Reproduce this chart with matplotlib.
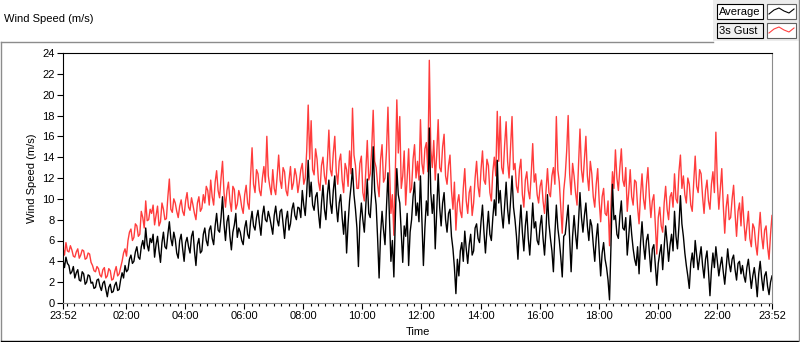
import numpy as np
import matplotlib.pyplot as plt
from matplotlib.patches import Rectangle
from matplotlib.ticker import FixedLocator

plt.rcParams['font.family'] = ['Liberation Sans', 'DejaVu Sans']

# one sample every 3 minutes, from 23:52 to 23:52 next day
step_min = 3
gust = [
    5.3, 4.6, 5.8, 5.0, 4.9, 5.5, 5.1, 4.5, 4.4, 4.9, 5.2, 4.3, 4.6, 5.1, 5.0, 4.2, 4.3, 4.8, 4.7, 3.9,
    3.6, 3.1, 3.0, 3.5, 3.3, 2.7, 2.5, 3.2, 3.4, 2.4, 2.6, 3.3, 3.1, 2.2, 2.3, 3.0, 3.5, 2.6, 2.8, 3.4,
    4.0, 4.8, 5.2, 4.5, 6.0, 6.8, 7.1, 6.0, 6.3, 7.6, 7.4, 6.4, 6.6, 8.8, 8.2, 7.2, 9.8, 7.9, 8.0, 9.0,
    8.6, 9.4, 7.5, 8.4, 9.3, 7.4, 7.8, 9.6, 9.0, 8.0, 8.1, 10.2, 11.9, 9.0, 8.7, 10.0, 9.6, 8.8, 8.2, 9.3,
    9.9, 8.8, 8.4, 9.8, 10.6, 9.2, 8.9, 10.1, 9.4, 8.6, 8.0, 9.6, 10.2, 8.8, 9.1, 10.4, 9.6, 11.2, 10.8, 9.4,
    11.8, 10.2, 9.4, 11.6, 12.7, 10.8, 10.1, 12.0, 13.6, 10.6, 9.2, 10.8, 11.6, 9.8, 8.8, 11.2, 10.9, 9.0, 9.5, 10.8,
    10.2, 9.2, 8.6, 10.4, 11.3, 9.6, 9.0, 12.2, 14.9, 11.4, 10.6, 12.8, 12.4, 10.8, 10.3, 12.0, 13.1, 11.6, 16.0, 12.2,
    11.2, 10.4, 12.8, 11.0, 10.4, 12.2, 14.2, 11.8, 11.0, 13.0, 12.6, 10.8, 10.3, 11.8, 13.1, 10.9, 11.5, 12.9, 12.2, 10.6,
    11.6, 12.8, 13.4, 11.4, 12.0, 14.6, 19.0, 13.8, 17.5, 12.8, 12.3, 14.8, 13.8, 11.6, 10.8, 13.2, 14.0, 12.2, 11.4, 13.6,
    16.6, 12.8, 12.2, 14.4, 16.0, 12.6, 11.4, 13.6, 14.3, 11.8, 10.6, 13.4, 12.8, 11.2, 14.6, 12.4, 18.7, 14.2, 13.2, 11.0,
    11.0, 13.4, 14.1, 10.6, 9.8, 12.6, 15.6, 11.8, 12.4, 14.8, 18.5, 13.6, 13.0, 11.4, 10.2, 13.8, 15.2, 11.6, 12.0, 14.6,
    18.8, 13.2, 8.6, 10.4, 6.5, 12.6, 19.5, 14.4, 17.9, 11.0, 12.2, 14.6, 9.4, 12.0, 14.8, 10.6, 11.0, 13.8, 15.2, 12.0,
    13.6, 11.8, 17.6, 13.4, 12.4, 14.8, 15.4, 12.6, 23.3, 14.8, 13.0, 15.6, 11.8, 14.2, 17.6, 13.0, 12.6, 15.0, 16.2, 12.2,
    11.4, 13.2, 14.2, 10.8, 9.0, 11.6, 7.0, 9.6, 10.4, 8.8, 8.2, 11.0, 12.9, 9.8, 8.6, 10.6, 11.2, 8.4, 9.6, 12.0,
    13.6, 11.2, 10.2, 12.8, 14.6, 11.8, 11.4, 13.8, 13.2, 10.6, 9.8, 12.6, 14.0, 12.2, 18.4, 13.6, 17.9, 13.0, 12.4, 15.2,
    17.4, 13.6, 12.0, 15.0, 17.9, 12.8, 13.4, 11.2, 10.6, 12.8, 13.8, 10.4, 9.2, 11.8, 12.6, 10.8, 10.0, 12.4, 15.3, 11.6,
    12.4, 10.4, 9.6, 11.2, 11.8, 9.8, 8.6, 10.8, 12.9, 10.6, 10.2, 12.2, 13.0, 11.4, 17.9, 12.8, 11.6, 9.2, 6.7, 10.8,
    12.2, 14.6, 18.0, 12.4, 10.4, 13.4, 12.2, 10.6, 9.4, 13.2, 16.7, 12.8, 11.6, 13.8, 16.0, 12.2, 10.8, 13.6, 12.4, 10.2,
    9.2, 11.4, 12.9, 9.8, 7.8, 10.2, 11.0, 8.6, 8.4, 9.8, 5.5, 9.4, 12.6, 11.0, 14.7, 12.0, 10.8, 13.0, 14.8, 11.8,
    11.2, 13.0, 8.8, 10.6, 12.8, 10.2, 9.4, 11.8, 11.6, 9.2, 7.6, 10.4, 12.4, 10.0, 9.0, 11.4, 13.0, 10.2, 8.2, 9.8,
    10.4, 7.6, 4.7, 8.2, 9.2, 7.4, 6.8, 9.6, 11.2, 9.0, 8.0, 10.2, 10.6, 9.2, 12.4, 10.0, 9.6, 12.6, 14.2, 11.0,
    12.2, 10.4, 9.6, 12.0, 11.4, 9.4, 8.8, 11.6, 14.1, 11.2, 10.6, 12.8, 12.4, 10.2, 8.6, 10.8, 11.8, 9.8, 9.0, 11.4,
    12.6, 10.6, 16.4, 11.6, 9.0, 11.0, 12.9, 9.4, 6.7, 9.2, 10.4, 8.0, 8.2, 10.0, 11.3, 8.6, 6.4, 8.8, 9.6, 7.4,
    10.2, 7.8, 6.0, 7.4, 8.8, 6.2, 5.4, 7.6, 7.2, 5.6, 4.6, 6.8, 8.7, 6.4, 5.2, 7.0, 7.4, 5.4, 4.2, 6.6, 8.4,
]
average = [
    4.1, 3.4, 4.4, 3.8, 3.6, 2.8, 3.0, 3.5, 2.4, 2.9, 3.2, 2.2, 2.1, 3.0, 2.8, 1.8, 2.0, 2.7, 2.6, 1.9,
    2.0, 1.4, 1.5, 2.2, 2.3, 1.6, 1.2, 1.9, 2.1, 1.3, 0.6, 1.5, 1.8, 1.0, 1.1, 1.7, 2.0, 1.2, 1.3, 2.2,
    2.9, 2.4, 3.6, 3.0, 3.2, 4.2, 4.6, 3.8, 4.0, 4.9, 5.4, 4.4, 4.2, 5.4, 6.0, 5.2, 7.2, 5.6, 5.0, 6.2,
    5.8, 6.6, 4.4, 5.6, 6.4, 5.0, 3.9, 5.8, 6.8, 5.4, 5.2, 6.6, 7.8, 6.2, 5.5, 6.8, 6.1, 4.8, 4.3, 6.0,
    6.6, 5.2, 4.0, 5.8, 6.3, 5.4, 4.8, 6.4, 6.9, 5.0, 3.6, 5.6, 6.2, 4.8, 5.0, 6.6, 7.2, 6.0, 5.5, 7.0,
    7.4, 6.2, 5.6, 7.4, 8.6, 7.0, 6.8, 8.2, 10.2, 7.6, 6.0, 7.8, 8.4, 6.4, 5.1, 6.8, 7.5, 8.6, 6.3, 7.2,
    6.8, 6.0, 5.6, 7.2, 7.9, 6.6, 6.2, 7.8, 8.8, 7.4, 7.0, 8.2, 8.9, 7.6, 6.5, 8.4, 9.3, 8.0, 7.8, 8.8,
    8.2, 7.4, 6.6, 8.4, 9.3, 8.0, 7.4, 8.8, 9.0, 7.6, 6.2, 8.0, 8.8, 7.0, 7.6, 9.0, 9.6, 8.4, 8.0, 9.2,
    9.1, 8.2, 10.8, 9.4, 8.4, 10.6, 13.7, 10.2, 11.6, 9.4, 8.9, 10.2, 10.6, 8.6, 7.2, 9.6, 11.3, 9.0, 8.0, 10.4,
    11.8, 9.6, 8.6, 10.8, 12.2, 9.4, 7.8, 9.6, 10.4, 8.2, 6.6, 8.8, 4.8, 7.6, 9.8, 11.2, 12.9, 10.4, 9.0, 7.2,
    3.5, 7.8, 9.6, 8.0, 6.8, 9.4, 11.9, 8.6, 8.2, 10.6, 15.0, 10.8, 9.4, 6.2, 2.4, 6.6, 8.8, 7.0, 5.6, 9.2,
    12.5, 8.4, 4.0, 6.0, 2.5, 8.2, 12.9, 10.4, 9.6, 6.8, 3.9, 7.4, 6.4, 8.6, 3.6, 6.8, 8.0, 10.2, 11.6, 8.4,
    9.6, 7.8, 12.2, 8.0, 3.6, 7.2, 9.8, 8.4, 16.8, 10.6, 8.6, 10.4, 5.2, 8.8, 12.4, 9.2, 7.4, 9.6, 10.6, 8.0,
    6.8, 8.6, 9.0, 6.4, 5.2, 3.4, 0.9, 4.2, 2.6, 5.0, 5.8, 4.0, 6.9, 5.2, 3.8, 5.6, 6.6, 4.6, 5.0, 7.2,
    7.6, 6.2, 5.8, 7.8, 9.4, 6.8, 4.8, 7.0, 8.8, 6.6, 6.0, 8.2, 9.9, 8.4, 13.7, 9.6, 10.8, 8.6, 7.2, 9.4,
    11.6, 9.0, 7.6, 9.8, 12.2, 9.2, 8.0, 6.4, 4.2, 7.2, 9.4, 6.8, 5.0, 7.4, 8.8, 6.2, 4.6, 7.0, 9.6, 7.2,
    7.8, 6.0, 5.6, 7.4, 8.4, 6.2, 4.6, 7.0, 10.4, 7.6, 6.2, 5.0, 3.0, 6.6, 9.4, 7.2, 6.0, 4.4, 2.5, 6.4,
    6.6, 8.0, 9.4, 6.2, 3.0, 6.4, 8.4, 6.6, 5.2, 7.8, 10.6, 8.2, 6.8, 8.4, 9.6, 7.4, 6.0, 8.0, 7.4, 5.6,
    4.0, 6.2, 7.6, 5.0, 2.6, 4.8, 5.8, 4.2, 3.4, 2.2, 0.3, 5.6, 11.4, 8.0, 8.4, 6.6, 6.2, 8.4, 9.8, 7.2,
    7.0, 8.2, 4.6, 6.4, 8.4, 6.6, 5.2, 4.2, 3.6, 5.4, 2.8, 5.8, 7.8, 5.6, 4.2, 6.0, 6.6, 4.8, 3.0, 5.2,
    5.6, 3.6, 1.7, 3.8, 4.8, 5.6, 3.2, 5.4, 7.4, 5.8, 4.0, 5.6, 6.6, 5.0, 8.8, 6.4, 5.2, 7.4, 10.3, 7.6,
    6.4, 4.8, 3.6, 2.6, 1.4, 3.8, 4.8, 3.4, 6.0, 4.6, 3.2, 4.4, 5.4, 3.6, 2.4, 4.2, 5.0, 3.0, 0.7, 3.2,
    4.8, 3.4, 5.4, 4.0, 2.6, 3.6, 4.4, 3.0, 1.8, 3.4, 5.2, 3.8, 3.0, 4.2, 4.6, 3.2, 2.2, 3.8, 4.0, 2.8,
    3.6, 2.6, 2.0, 3.4, 4.2, 2.8, 1.4, 2.6, 3.4, 2.2, 0.6, 2.8, 4.0, 2.4, 1.2, 2.6, 3.0, 1.6, 0.8, 2.0, 2.6,
]
major_labels = ['23:52', '02:00', '04:00', '06:00', '08:00', '10:00', '12:00',
                '14:00', '16:00', '18:00', '20:00', '22:00', '23:52']
major_min = [0, 128, 248, 368, 488, 608, 728, 848, 968, 1088, 1208, 1328, 1440]

t = np.arange(len(gust)) * step_min

W, H = 800, 342
fig = plt.figure(figsize=(W / 100, H / 100), dpi=100)
fig.patch.set_facecolor('white')

# overlay in pixel coordinates for frame and legend
ov = fig.add_axes([0, 0, 1, 1])
ov.set_xlim(0, W)
ov.set_ylim(H, 0)
ov.axis('off')
ov.plot([1, 1], [42, 340], color='#8c8c8c', lw=1)
ov.plot([1, 713], [42, 42], color='#8c8c8c', lw=1)
ov.plot([1, 798], [340.5, 340.5], color='black', lw=1)
ov.add_patch(Rectangle((713, 0), 87, 41, facecolor='#ececec', edgecolor='none'))
ov.plot([798.5, 798.5], [0, 341], color='#8c8c8c', lw=1)
ov.text(4, 19, 'Wind Speed (m/s)', fontsize=8, va='center', ha='left')

for yy, name, col, fill in [(4, 'Average', 'black', 'white'),
                            (23, '3s Gust', '#ff4040', '#f0f0f0')]:
    ov.add_patch(Rectangle((717, yy), 46, 15, facecolor=fill, edgecolor='black', lw=0.8))
    ov.text(719, yy + 7.8, name, fontsize=8, va='center', ha='left')
    ov.add_patch(Rectangle((767, yy), 29, 15, facecolor='white', edgecolor='#606060', lw=0.8))
    ov.plot([769, 774, 779, 784, 789, 794],
            [yy + 10, yy + 6, yy + 4, yy + 7, yy + 9, yy + 5], color=col, lw=0.8)

ax = fig.add_axes([63 / W, 1 - 303 / H, (772 - 63) / W, (303 - 53) / H])
ax.plot(t, gust, color='#ff3c3c', lw=1.0)
ax.plot(t, average, color='black', lw=1.0)
ax.set_xlim(0, 1440)
ax.set_ylim(0, 24)
ax.set_yticks(np.arange(0, 25, 2))
ax.set_xticks(major_min)
ax.set_xticklabels(major_labels)
ax.xaxis.set_minor_locator(FixedLocator(np.arange(8, 1440, 15)))
ax.tick_params(axis='both', which='major', direction='out', length=4, width=0.8,
               labelsize=8, pad=2)
ax.tick_params(axis='x', which='minor', direction='out', length=2.5, width=0.8)
for s in ['left', 'top']:
    ax.spines[s].set_color('black')
for s in ['right', 'bottom']:
    ax.spines[s].set_color('#8c8c8c')
ax.set_ylabel('Wind Speed (m/s)', fontsize=8, labelpad=4)
ax.set_xlabel('Time', fontsize=8, labelpad=4)

fig.savefig('out.png', dpi=100)
